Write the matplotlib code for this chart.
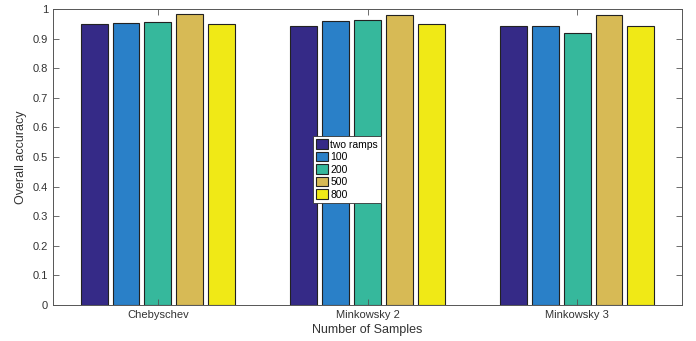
import matplotlib
matplotlib.use("Agg")
import matplotlib.pyplot as plt
import numpy as np

plt.rcParams['font.family'] = ['Liberation Sans', 'DejaVu Sans']

categories = ["Chebyschev", "Minkowsky 2", "Minkowsky 3"]
series_names = ["two ramps", "100", "200", "500", "800"]
values = {
    "two ramps": [0.948, 0.944, 0.941],
    "100": [0.952, 0.958, 0.944],
    "200": [0.955, 0.962, 0.919],
    "500": [0.982, 0.981, 0.981],
    "800": [0.948, 0.948, 0.941],
}
colors = ["#352A87", "#2A80C8", "#36B89C", "#D7BA55", "#F0E916"]
yticks = np.round(np.arange(0, 1.01, 0.1), 1)

fig = plt.figure(figsize=(6.96, 3.41), dpi=100)
ax = fig.add_axes([53/696, 36/341, 629/696, 296/341])

x = np.arange(1, len(categories) + 1)
stride = 0.152
width = 0.128
n = len(series_names)
for i, name in enumerate(series_names):
    off = (i - (n - 1) / 2) * stride
    ax.bar(x + off, values[name], width, color=colors[i], edgecolor="#222222",
           linewidth=0.8, label=name)

ax.set_xlim(0.5, 3.5)
ax.set_ylim(0, 1)
ax.set_xticks(x)
ax.set_xticklabels(categories)
ax.set_yticks(yticks)
ax.set_yticklabels([f"{v:g}" for v in yticks])
ax.tick_params(direction="in", top=True, right=True, labelsize=8, colors="#555555",
               labelcolor="#333333", length=4, width=0.6)
for s in ax.spines.values():
    s.set_color("#555555")
    s.set_linewidth(0.7)
ax.set_xlabel("Number of Samples", fontsize=9, color="#333333", labelpad=3)
ax.set_ylabel("Overall accuracy", fontsize=9, color="#333333", labelpad=4)

leg = ax.legend(loc="upper left", bbox_to_anchor=(0.413, 0.57), fontsize=7.5,
                frameon=True, fancybox=False, edgecolor="#333333", framealpha=1,
                borderpad=0.3, handlelength=1.2, handleheight=1.0, handletextpad=0.2,
                labelspacing=0.22, borderaxespad=0)
leg.get_frame().set_linewidth(0.6)

fig.savefig("out.png", dpi=100)
